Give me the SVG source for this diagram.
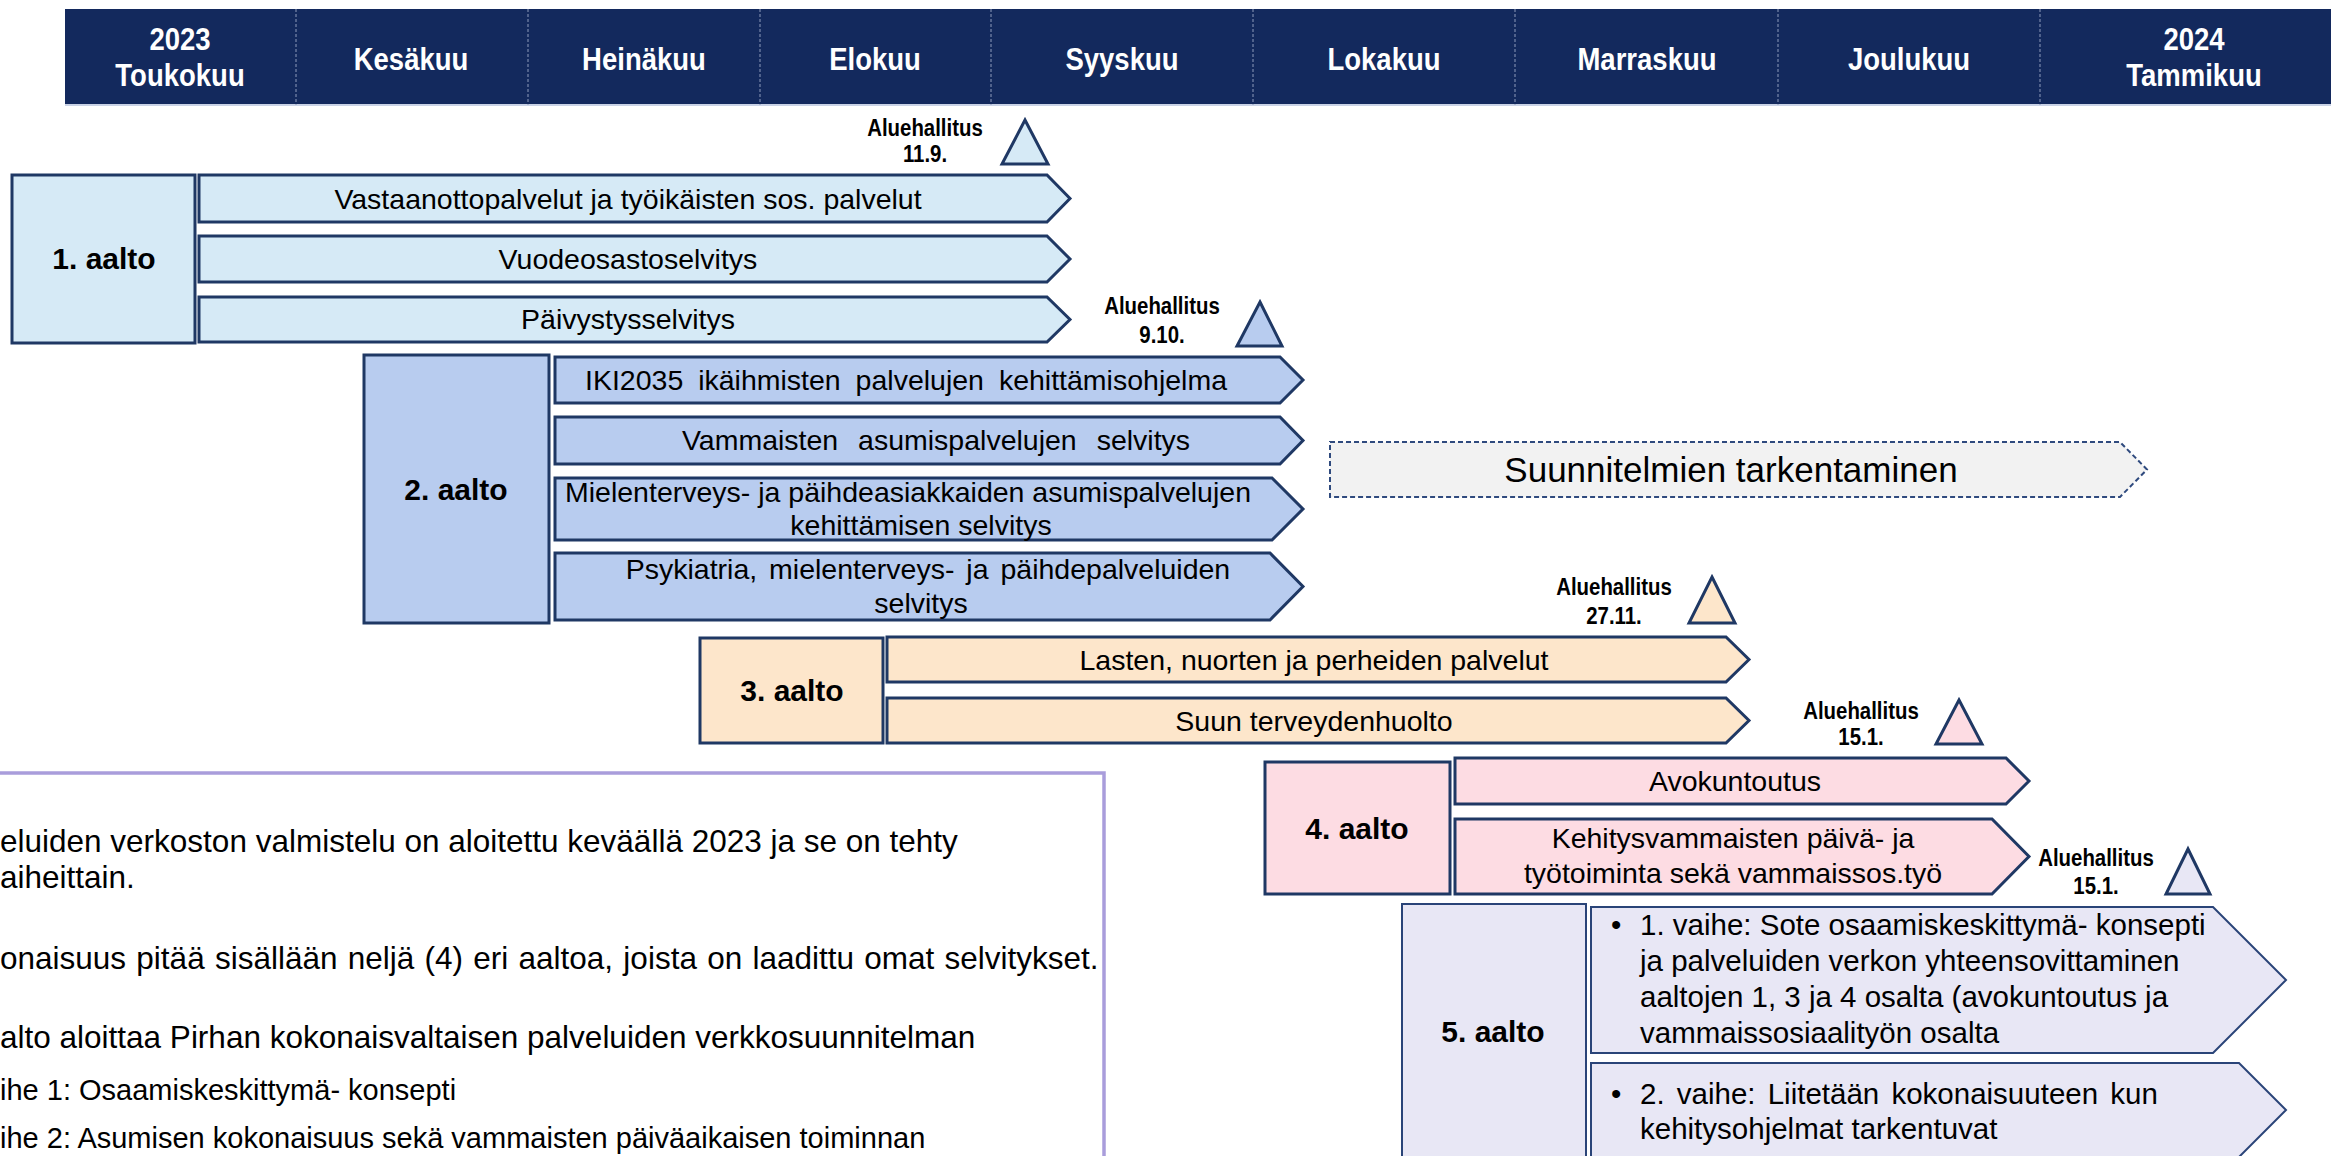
<svg xmlns="http://www.w3.org/2000/svg" width="2331" height="1156" viewBox="0 0 2331 1156">
<style>
text{font-family:"Liberation Sans",Arial,sans-serif;fill:#000}
.hd{font-size:32px;font-weight:bold;fill:#fff;text-anchor:middle}
.ms{font-size:24px;font-weight:bold;text-anchor:middle}
.lb{font-size:30px;font-weight:bold;text-anchor:middle}
.bt{font-size:28.5px;text-anchor:middle}
.st{stroke:#1F3864;stroke-width:3;stroke-linejoin:miter}
.g1{fill:#D6EAF6}.g2{fill:#B8CCEF}.g3{fill:#FDE6CB}.g4{fill:#FDDCE3}.g5{fill:#E8E7F5}
.tri{stroke:#1F3864;stroke-width:3;stroke-linejoin:miter}
.g5s{stroke:#2A4478;stroke-width:2}
.tb{font-size:31.5px}
.tb2{font-size:29px}
.p5{font-size:29.5px}
</style>

<g id="header">
<rect x="65" y="9" width="2266" height="96" fill="#13295D"/>
<line x1="65" y1="105" x2="2331" y2="105" stroke="#C9D2E6" stroke-width="2"/>
<g stroke="#8E9BBB" stroke-width="1" stroke-dasharray="3,2">
<line x1="296" y1="9" x2="296" y2="105"/>
<line x1="528" y1="9" x2="528" y2="105"/>
<line x1="760" y1="9" x2="760" y2="105"/>
<line x1="991" y1="9" x2="991" y2="105"/>
<line x1="1253" y1="9" x2="1253" y2="105"/>
<line x1="1515" y1="9" x2="1515" y2="105"/>
<line x1="1778" y1="9" x2="1778" y2="105"/>
<line x1="2040" y1="9" x2="2040" y2="105"/>
</g>
<text class="hd" transform="translate(180,50) scale(0.86,1)">2023</text>
<text class="hd" transform="translate(180,86) scale(0.86,1)">Toukokuu</text>
<text class="hd" transform="translate(411,70) scale(0.86,1)">Kesäkuu</text>
<text class="hd" transform="translate(644,70) scale(0.86,1)">Heinäkuu</text>
<text class="hd" transform="translate(875,70) scale(0.86,1)">Elokuu</text>
<text class="hd" transform="translate(1122,70) scale(0.86,1)">Syyskuu</text>
<text class="hd" transform="translate(1384,70) scale(0.86,1)">Lokakuu</text>
<text class="hd" transform="translate(1647,70) scale(0.86,1)">Marraskuu</text>
<text class="hd" transform="translate(1909,70) scale(0.86,1)">Joulukuu</text>
<text class="hd" transform="translate(2194,50) scale(0.86,1)">2024</text>
<text class="hd" transform="translate(2194,86) scale(0.86,1)">Tammikuu</text>
</g>

<g id="milestone1">
<text class="ms" transform="translate(925,136) scale(0.85,1)">Aluehallitus</text>
<text class="ms" transform="translate(925,162) scale(0.85,1)">11.9.</text>
<polygon class="tri g1" points="1025,120 1048,164 1002,164"/>
</g>
<g id="milestone2">
<text class="ms" transform="translate(1162,314) scale(0.85,1)">Aluehallitus</text>
<text class="ms" transform="translate(1162,343) scale(0.85,1)">9.10.</text>
<polygon class="tri g2" points="1260,302 1282,346 1237,346"/>
</g>
<g id="milestone3">
<text class="ms" transform="translate(1614,595) scale(0.85,1)">Aluehallitus</text>
<text class="ms" transform="translate(1614,624) scale(0.85,1)">27.11.</text>
<polygon class="tri g3" points="1712,577 1735,623 1689,623"/>
</g>
<g id="milestone4">
<text class="ms" transform="translate(1861,719) scale(0.85,1)">Aluehallitus</text>
<text class="ms" transform="translate(1861,745) scale(0.85,1)">15.1.</text>
<polygon class="tri g4" points="1959,700 1982,744 1936,744"/>
</g>
<g id="milestone5">
<text class="ms" transform="translate(2096,866) scale(0.85,1)">Aluehallitus</text>
<text class="ms" transform="translate(2096,894) scale(0.85,1)">15.1.</text>
<polygon class="tri g5" points="2188,849 2210,894 2166,894"/>
</g>

<g id="wave1">
<rect class="st g1" x="12" y="175" width="183" height="168"/>
<text class="lb" x="104" y="269">1. aalto</text>
<polygon class="st g1" points="199,175 1047,175 1070,198.5 1047,222 199,222"/>
<text class="bt" x="628" y="209">Vastaanottopalvelut ja työikäisten sos. palvelut</text>
<polygon class="st g1" points="199,236 1047,236 1070,259 1047,282 199,282"/>
<text class="bt" x="628" y="269">Vuodeosastoselvitys</text>
<polygon class="st g1" points="199,297 1047,297 1070,319.5 1047,342 199,342"/>
<text class="bt" x="628" y="329">Päivystysselvitys</text>
</g>

<g id="wave2">
<rect class="st g2" x="364" y="355" width="185" height="268"/>
<text class="lb" x="456" y="500">2. aalto</text>
<polygon class="st g2" points="555,357 1280,357 1303,380 1280,403 555,403"/>
<text class="bt" x="906" y="390" word-spacing="7">IKI2035 ikäihmisten palvelujen kehittämisohjelma</text>
<polygon class="st g2" points="555,417 1280,417 1303,440.5 1280,464 555,464"/>
<text class="bt" x="936" y="450" word-spacing="12">Vammaisten asumispalvelujen selvitys</text>
<polygon class="st g2" points="555,478 1272,478 1303,509 1272,540 555,540"/>
<text class="bt" x="908" y="502">Mielenterveys- ja päihdeasiakkaiden asumispalvelujen</text>
<text class="bt" x="921" y="535">kehittämisen selvitys</text>
<polygon class="st g2" points="555,553 1270,553 1303,586.5 1270,620 555,620"/>
<text class="bt" x="928" y="579" word-spacing="4">Psykiatria, mielenterveys- ja päihdepalveluiden</text>
<text class="bt" x="921" y="613">selvitys</text>
</g>

<g id="planning">
<polygon points="1330,442 2120,442 2147,469.5 2120,497 1330,497" fill="#F2F2F2" stroke="#2F4A7E" stroke-width="2" stroke-dasharray="5,3"/>
<text x="1731" y="482" font-size="35" text-anchor="middle">Suunnitelmien tarkentaminen</text>
</g>

<g id="wave3">
<rect class="st g3" x="700" y="638" width="183" height="105"/>
<text class="lb" x="792" y="701">3. aalto</text>
<polygon class="st g3" points="887,637 1726,637 1749,659.5 1726,682 887,682"/>
<text class="bt" x="1314" y="670">Lasten, nuorten ja perheiden palvelut</text>
<polygon class="st g3" points="887,698 1726,698 1749,720.5 1726,743 887,743"/>
<text class="bt" x="1314" y="731">Suun terveydenhuolto</text>
</g>

<g id="wave4">
<rect class="st g4" x="1265" y="762" width="185" height="132"/>
<text class="lb" x="1357" y="839">4. aalto</text>
<polygon class="st g4" points="1455,758 2006,758 2029,781 2006,804 1455,804"/>
<text class="bt" x="1735" y="791">Avokuntoutus</text>
<polygon class="st g4" points="1455,819 1992,819 2029,856.5 1992,894 1455,894"/>
<text class="bt" x="1733" y="848">Kehitysvammaisten päivä- ja</text>
<text class="bt" x="1733" y="883">työtoiminta sekä vammaissos.työ</text>
</g>

<g id="wave5">
<rect class="g5s g5" x="1402" y="904" width="184" height="270"/>
<text class="lb" x="1493" y="1042">5. aalto</text>
<polygon class="g5s g5" points="1591,907 2213,907 2286,980 2213,1053 1591,1053"/>
<g class="p5">
<text x="1611" y="935">•</text>
<text x="1640" y="935">1. vaihe: Sote osaamiskeskittymä- konsepti</text>
<text x="1640" y="971">ja palveluiden verkon yhteensovittaminen</text>
<text x="1640" y="1007">aaltojen 1, 3 ja 4 osalta (avokuntoutus ja</text>
<text x="1640" y="1043">vammaissosiaalityön osalta</text>
</g>
<polygon class="g5s g5" points="1591,1063 2239,1063 2286,1110 2239,1157 1591,1157"/>
<g class="p5">
<text x="1611" y="1104">•</text>
<text x="1640" y="1104" word-spacing="4">2. vaihe: Liitetään kokonaisuuteen kun</text>
<text x="1640" y="1139">kehitysohjelmat tarkentuvat</text>
</g>
</g>

<g id="infobox">
<rect x="-10" y="773" width="1114" height="400" fill="#fff" stroke="#A99DDB" stroke-width="3.5"/>
<text class="tb" x="0" y="852">eluiden verkoston valmistelu on aloitettu keväällä 2023 ja se on tehty</text>
<text class="tb" x="0" y="888">aiheittain.</text>
<text class="tb" x="0" y="969" word-spacing="1.5">onaisuus pitää sisällään neljä (4) eri aaltoa, joista on laadittu omat selvitykset.</text>
<text class="tb" x="0" y="1048">alto aloittaa Pirhan kokonaisvaltaisen palveluiden verkkosuunnitelman</text>
<text class="tb2" x="0" y="1100">ihe 1: Osaamiskeskittymä- konsepti</text>
<text class="tb2" x="0" y="1148">ihe 2: Asumisen kokonaisuus sekä vammaisten päiväaikaisen toiminnan</text>
</g>
<g id="connectors"/>
</svg>
